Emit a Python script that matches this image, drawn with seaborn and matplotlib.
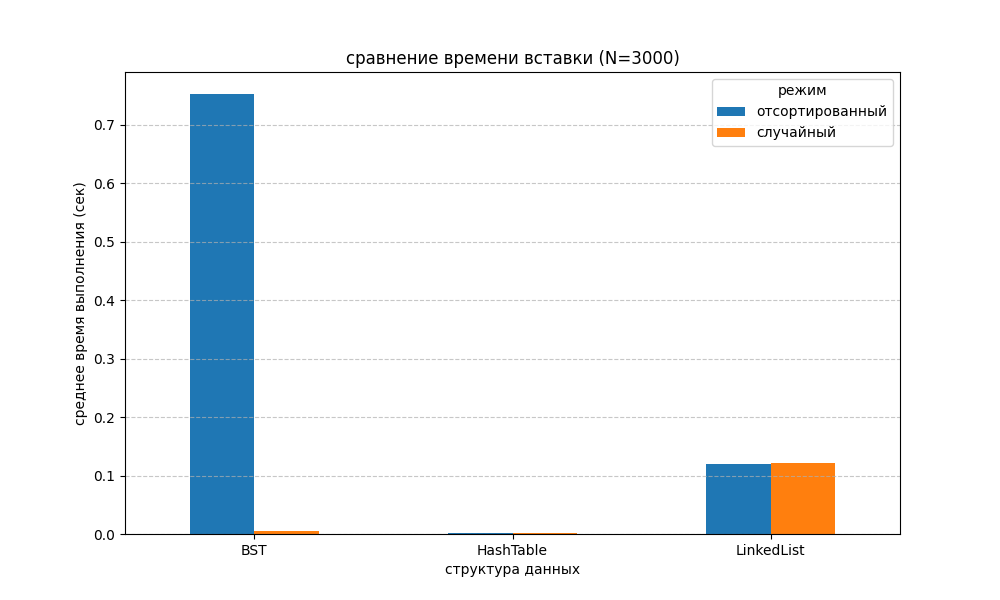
import pandas as pd
import matplotlib
matplotlib.use('Agg')
import matplotlib.pyplot as plt
import seaborn as sns

structures = ['BST', 'HashTable', 'LinkedList']
modes = ['отсортированный', 'случайный']
sorted_times = [0.753, 0.0015, 0.1198]
random_times = [0.0052, 0.0012, 0.1215]

df = pd.DataFrame({
    'structure': structures * 2,
    'mode': [modes[0]] * 3 + [modes[1]] * 3,
    'time': sorted_times + random_times,
})

fig, ax = plt.subplots(figsize=(10, 6), dpi=100)
sns.barplot(
    data=df, x='structure', y='time', hue='mode',
    order=structures, hue_order=modes,
    palette=['#1f77b4', '#ff7f0e'], saturation=1,
    width=0.5, linewidth=0, errorbar=None, ax=ax
)
ax.yaxis.grid(True, linestyle='--', alpha=0.7)
ax.set_title('сравнение времени вставки (N=3000)')
ax.set_xlabel('структура данных')
ax.set_ylabel('среднее время выполнения (сек)')
ax.set_xlim(-0.5, 2.5)
ax.legend(title='режим', loc='upper right')
plt.savefig('out.png')
